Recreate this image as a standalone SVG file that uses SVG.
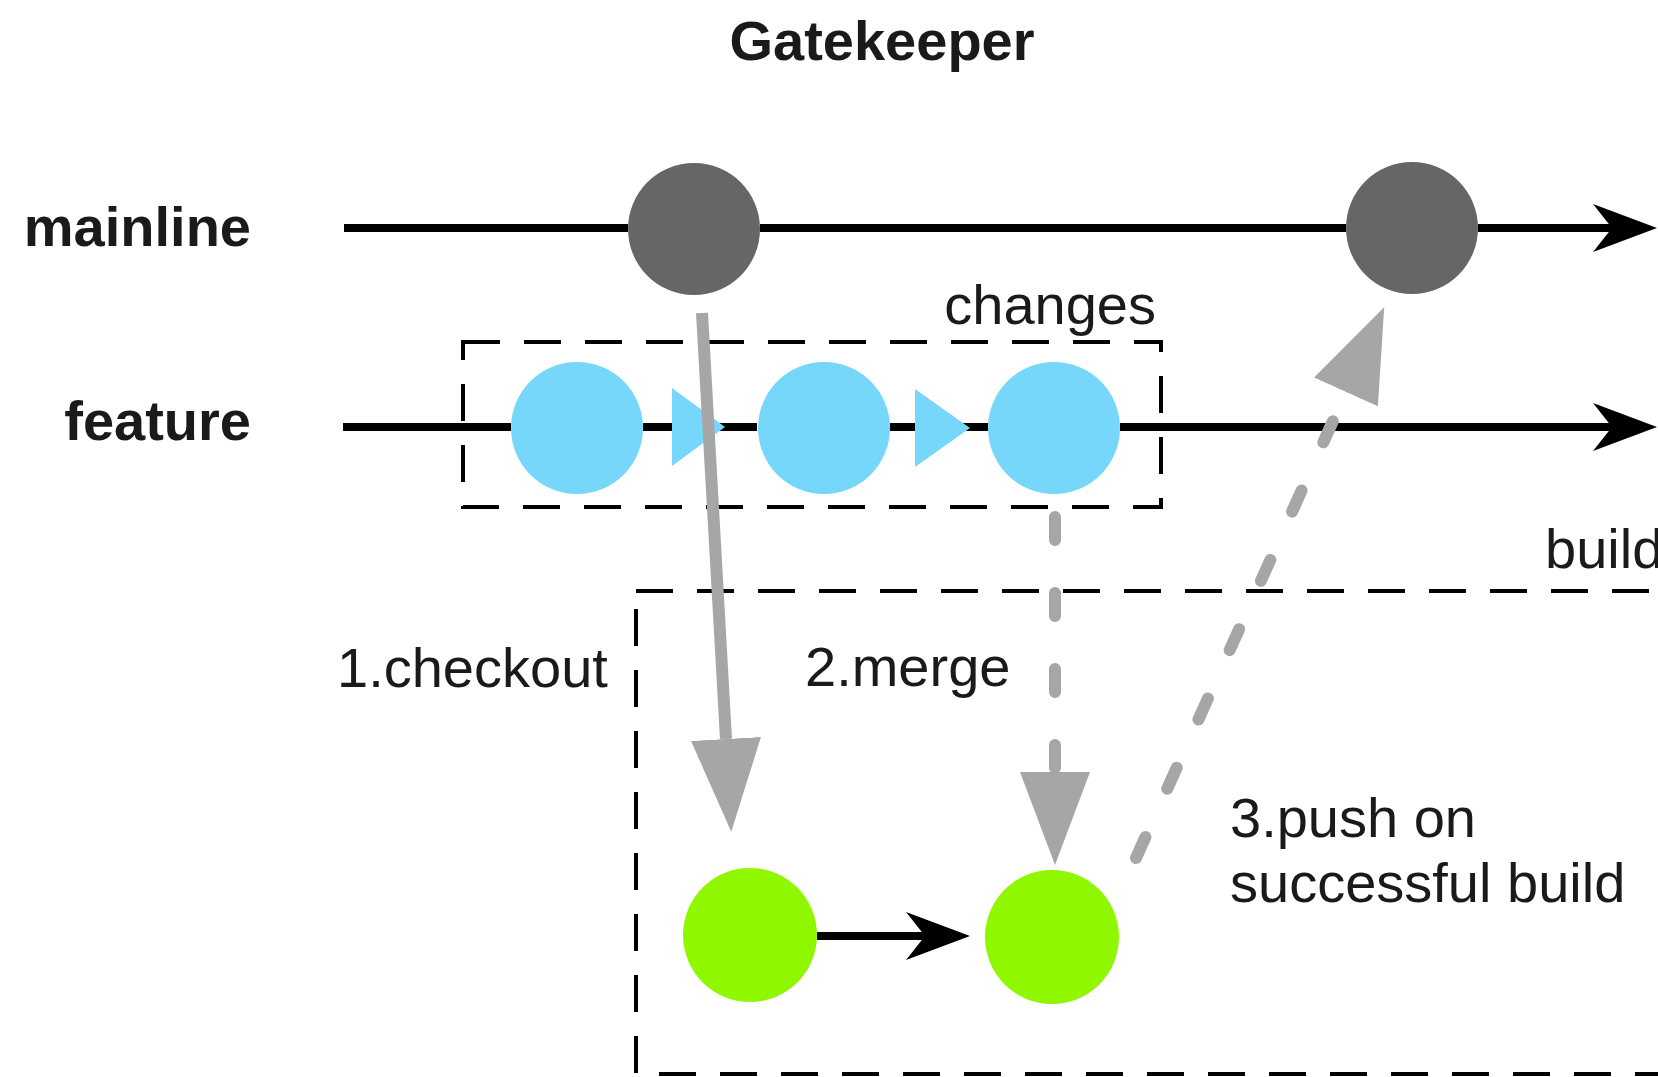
<svg xmlns="http://www.w3.org/2000/svg" width="1658" height="1077" viewBox="0 0 1658 1077">
<style>
text{font-family:"Liberation Sans",Arial,Helvetica,sans-serif;font-size:56px;fill:#1a1a1a}
.b{font-weight:bold}
.box{fill:none;stroke:#000;stroke-width:4;stroke-dasharray:37 24}
.main{fill:#666666}
.feat{fill:#77d7fa}
.bld{fill:#8ff700}
.ln{stroke:#000;stroke-width:8;fill:none}
.gray{stroke:#a6a6a6;stroke-width:12;fill:none}
.dash{stroke-dasharray:23 53;stroke-linecap:round}
</style>
<defs>
<marker id="arB" markerUnits="userSpaceOnUse" viewBox="0 0 66 52" markerWidth="66" markerHeight="52" refX="19" refY="26" orient="auto">
<path d="M0,2 L64,26 L0,50 L19,26 Z" fill="#000"/>
</marker>
<marker id="arG" markerUnits="userSpaceOnUse" viewBox="0 0 93 70" markerWidth="93" markerHeight="70" refX="0" refY="35" orient="auto">
<path d="M0,0 L93,35 L0,70 Z" fill="#a6a6a6"/>
</marker>
</defs>
<rect width="1658" height="1077" fill="#fff"/>

<g id="title"><text class="b" x="882" y="60" text-anchor="middle">Gatekeeper</text></g>
<g id="label-mainline"><text class="b" x="251" y="246" text-anchor="end">mainline</text></g>
<g id="label-feature"><text class="b" x="251" y="440" text-anchor="end">feature</text></g>

<g id="changes-box"><rect class="box" x="463" y="342" width="698" height="165"/><text x="1156" y="324" text-anchor="end">changes</text></g>
<g id="build-box"><rect class="box" x="636" y="591" width="1100" height="483"/><text x="1545" y="568">build</text></g>

<g id="connectors">
<path class="ln" d="M344,228 H628 M760,228 H1346"/>
<path class="ln" d="M1478,228 H1612" marker-end="url(#arB)"/>
<path class="ln" d="M343,427 H511 M643,427 H757 M890,427 H988"/>
<path class="ln" d="M1120,427 H1612" marker-end="url(#arB)"/>
<polygon class="feat" points="672,388 725,427 672,466"/>
<polygon class="feat" points="915,389 970,428 915,467"/>
<path class="ln" d="M817,936 H925" marker-end="url(#arB)"/>
<path class="gray" d="M702,313 L726,739" marker-end="url(#arG)"/>
<path class="gray dash" d="M1055,517 L1055,772" marker-end="url(#arG)"/>
<path class="gray dash" d="M1136,858 L1346,392" marker-end="url(#arG)"/>
</g>

<g id="main-1"><circle class="main" cx="694" cy="229" r="66"/></g>
<g id="main-2"><circle class="main" cx="1412" cy="228" r="66"/></g>
<g id="feature-1"><circle class="feat" cx="577" cy="428" r="66"/></g>
<g id="feature-2"><circle class="feat" cx="824" cy="428" r="66"/></g>
<g id="feature-3"><circle class="feat" cx="1054" cy="428" r="66"/></g>
<g id="build-1"><circle class="bld" cx="750" cy="935" r="67"/></g>
<g id="build-2"><circle class="bld" cx="1052" cy="937" r="67"/></g>

<g id="labels">
<text x="337" y="687">1.checkout</text>
<text x="805" y="686">2.merge</text>
<text x="1230" y="837">3.push on</text>
<text x="1230" y="902">successful build</text>
</g>
</svg>
